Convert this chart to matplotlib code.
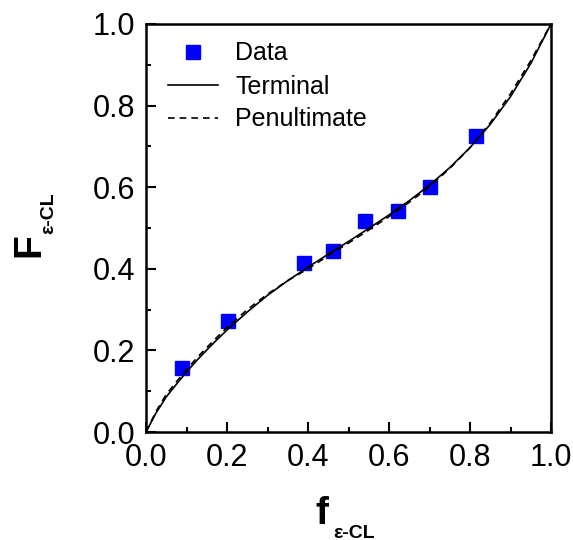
import matplotlib.pyplot as plt
from matplotlib.ticker import MultipleLocator

plt.rcParams['font.family'] = ['Liberation Sans', 'DejaVu Sans']

# measured copolymer composition
f_data = [0.089, 0.202, 0.390, 0.462, 0.541, 0.622, 0.701, 0.815]
F_data = [0.157, 0.272, 0.415, 0.443, 0.516, 0.542, 0.600, 0.725]

# model curves
f_model = [0.0, 0.025, 0.05, 0.075, 0.1, 0.125, 0.15, 0.175, 0.2, 0.25, 0.3,
           0.35, 0.4, 0.45, 0.5, 0.55, 0.6, 0.65, 0.7, 0.75, 0.8, 0.85, 0.9,
           0.95, 1.0]
F_terminal = [0.0, 0.047, 0.086, 0.117, 0.147, 0.175, 0.201, 0.226, 0.250,
              0.294, 0.335, 0.371, 0.404, 0.436, 0.467, 0.499, 0.532, 0.567,
              0.605, 0.648, 0.697, 0.754, 0.822, 0.903, 1.0]
F_penult = [0.0, 0.051, 0.092, 0.123, 0.153, 0.181, 0.207, 0.232, 0.256,
            0.300, 0.338, 0.371, 0.400, 0.432, 0.463, 0.495, 0.528, 0.563,
            0.601, 0.646, 0.697, 0.758, 0.829, 0.910, 1.0]

fig = plt.figure(figsize=(5.73, 5.40), dpi=100)
ax = fig.add_axes([146/573, 108/540, 405/573, 408/540])

ax.plot(f_data, F_data, 's', color='#0000ff', markersize=10, label='Data')
ax.plot(f_model, F_terminal, '-', color='black', lw=1.2, label='Terminal')
ax.plot(f_model, F_penult, '--', color='black', lw=1.2, dashes=(4, 3),
        label='Penultimate')

ax.set_xlim(0, 1)
ax.set_ylim(0, 1)
ax.xaxis.set_major_locator(MultipleLocator(0.2))
ax.xaxis.set_minor_locator(MultipleLocator(0.1))
ax.yaxis.set_major_locator(MultipleLocator(0.2))
ax.yaxis.set_minor_locator(MultipleLocator(0.1))
ax.xaxis.set_major_formatter(lambda v, p: f'{v:.1f}')
ax.yaxis.set_major_formatter(lambda v, p: f'{v:.1f}')
ax.tick_params(which='both', direction='in', width=1.5, labelsize=22)
ax.tick_params(which='major', length=7, pad=8)
ax.tick_params(which='minor', length=3.5)
for s in ax.spines.values():
    s.set_linewidth(1.8)

ax.legend(loc='upper left', frameon=False, fontsize=18, handlelength=2.0,
          handletextpad=0.7, labelspacing=0.36, borderaxespad=0.3,
          bbox_to_anchor=(0.01, 1.0))

# axis titles with subscripts
fig.text(322/573, 1 - 514/540, 'f', fontsize=28, fontweight='bold',
         ha='center', va='center')
fig.text(354/573, 1 - 533/540, 'ε-CL', fontsize=14, fontweight='bold',
         ha='center', va='center')
fig.text(29/573, 1 - 245/540, 'F', fontsize=28, fontweight='bold',
         ha='center', va='center', rotation=90)
fig.text(49/573, 1 - 213/540, 'ε-CL', fontsize=14, fontweight='bold',
         ha='center', va='center', rotation=90)

fig.savefig('out.png', dpi=100)
